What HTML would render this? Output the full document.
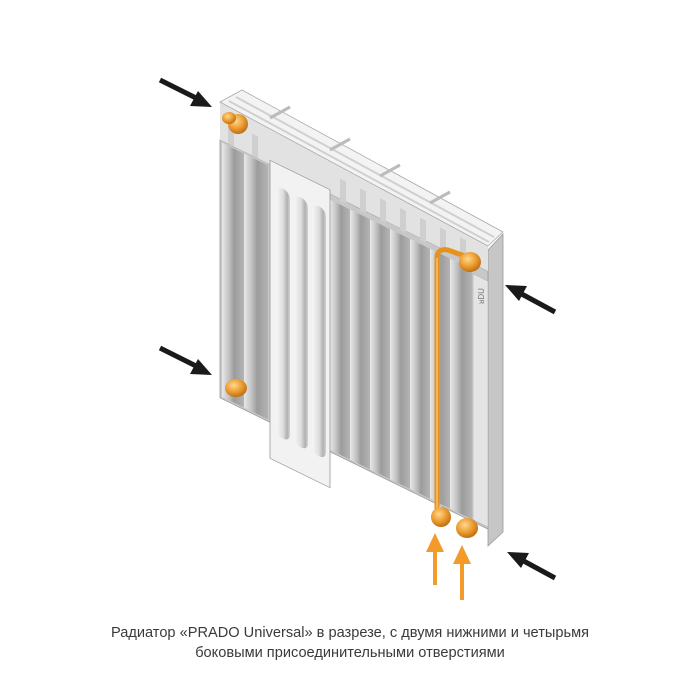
<!DOCTYPE html>
<html><head><meta charset="utf-8"><style>
html,body{margin:0;padding:0;background:#fff;}
.cap{position:absolute;left:0;width:700px;text-align:center;font-family:"Liberation Sans",sans-serif;font-size:14.6px;color:#3a3a3a;}
</style></head><body>
<div style="position:relative;width:700px;height:700px;overflow:hidden">
<svg width="700" height="700" viewBox="0 0 700 700" style="position:absolute;left:0;top:0">
<defs>
<linearGradient id="fin" x1="0" x2="1" y1="0" y2="0">
<stop offset="0" stop-color="#e8e8e8"/><stop offset="0.3" stop-color="#c4c4c4"/><stop offset="0.55" stop-color="#9c9c9c"/><stop offset="1" stop-color="#b4b4b4"/>
</linearGradient>
<linearGradient id="fin2" x1="0" x2="1" y1="0" y2="0">
<stop offset="0" stop-color="#f6f6f6"/><stop offset="0.5" stop-color="#dedede"/><stop offset="0.8" stop-color="#b0b0b0"/><stop offset="1" stop-color="#d4d4d4"/>
</linearGradient>
<radialGradient id="cu" cx="0.4" cy="0.35" r="0.7">
<stop offset="0" stop-color="#ffd890"/><stop offset="0.5" stop-color="#eea035"/><stop offset="1" stop-color="#b86a10"/>
</radialGradient>
</defs>
<!-- right side face -->
<polygon points="488,250 503,234 503,532 488,546" fill="#c6c6c6" stroke="#999" stroke-width="0.8"/>
<g transform="matrix(1,0.49,0,1,0,0)">
<!-- back panel -->
<rect x="220" y="32" width="268" height="258" fill="#c8c8c8" stroke="#999" stroke-width="0.8"/>
<rect x="222" y="34" width="22" height="254" fill="url(#fin)"/>
<rect x="244" y="34" width="24" height="254" fill="url(#fin)"/>
<rect x="330" y="38" width="20" height="250" fill="url(#fin)"/>
<rect x="350" y="38" width="20" height="250" fill="url(#fin)"/>
<rect x="370" y="38" width="20" height="250" fill="url(#fin)"/>
<rect x="390" y="38" width="20" height="250" fill="url(#fin)"/>
<rect x="410" y="38" width="20" height="250" fill="url(#fin)"/>
<rect x="430" y="38" width="20" height="250" fill="url(#fin)"/>
<rect x="450" y="38" width="22" height="250" fill="url(#fin)"/>
<!-- front right panel edge -->
<rect x="473" y="42" width="15" height="246" fill="#e4e4e4" stroke="#aaa" stroke-width="0.5"/>
<!-- convector top front face -->
<rect x="220" y="-6" width="268" height="38" fill="#e2e2e2"/>
<g fill="#cfcfcf">
<rect x="228" y="10" width="6" height="22"/><rect x="252" y="10" width="6" height="22"/>
<rect x="340" y="12" width="6" height="22"/><rect x="360" y="12" width="6" height="22"/>
<rect x="380" y="12" width="6" height="22"/><rect x="400" y="12" width="6" height="22"/>
<rect x="420" y="12" width="6" height="22"/><rect x="440" y="12" width="6" height="22"/>
<rect x="460" y="12" width="6" height="22"/>
</g>
<!-- front cutaway panel -->
<rect x="270" y="28" width="60" height="298" fill="#f2f2f2" stroke="#999" stroke-width="0.8"/>
<rect x="276" y="50" width="14" height="250" rx="7" fill="url(#fin2)"/>
<rect x="294" y="50" width="14" height="250" rx="7" fill="url(#fin2)"/>
<rect x="312" y="50" width="14" height="250" rx="7" fill="url(#fin2)"/>
</g>
<!-- top face -->
<polygon points="220,102 242,90 503,232 488,246" fill="#f3f3f3" stroke="#aaa" stroke-width="0.8"/>
<g stroke="#d0d0d0" stroke-width="2" fill="none">
<line x1="236" y1="97" x2="494" y2="237"/>
<line x1="229" y1="101" x2="489" y2="242"/>
</g>
<g stroke="#bbb" stroke-width="3">
<line x1="270" y1="118" x2="290" y2="107"/>
<line x1="330" y1="150" x2="350" y2="139"/>
<line x1="380" y1="176" x2="400" y2="165"/>
<line x1="430" y1="203" x2="450" y2="192"/>
</g>
<text x="478" y="302" font-family="Liberation Sans,sans-serif" font-size="8" fill="#777" transform="rotate(-90 482 300)">ᴚDU</text>
<!-- orange pipe & fittings -->
<path d="M437,512 L437,258 Q437,248 448,250 L465,256" stroke="#e8921e" stroke-width="5" fill="none"/>
<path d="M437,512 L437,258" stroke="#f7c070" stroke-width="1.5" fill="none"/>
<ellipse cx="238" cy="124" rx="10" ry="10" fill="url(#cu)"/>
<ellipse cx="229" cy="118" rx="7" ry="6" fill="url(#cu)"/>
<ellipse cx="236" cy="388" rx="11" ry="9" fill="url(#cu)"/>
<ellipse cx="470" cy="262" rx="11" ry="10" fill="url(#cu)"/>
<ellipse cx="441" cy="517" rx="10" ry="10" fill="url(#cu)"/>
<ellipse cx="467" cy="528" rx="11" ry="10" fill="url(#cu)"/>
<!-- black arrows -->
<g fill="#1a1a1a" stroke="#1a1a1a">
<line x1="160" y1="80" x2="198" y2="99" stroke-width="5"/>
<polygon points="212,107 190,106 198,91" stroke="none"/>
<line x1="160" y1="348" x2="198" y2="367" stroke-width="5"/>
<polygon points="212,375 190,374 198,359" stroke="none"/>
<line x1="555" y1="312" x2="518" y2="292" stroke-width="5"/>
<polygon points="505,285 527,286 519,301" stroke="none"/>
<line x1="555" y1="578" x2="520" y2="559" stroke-width="5"/>
<polygon points="507,552 529,553 521,568" stroke="none"/>
</g>
<!-- orange arrows -->
<g fill="#f39a2b" stroke="#f39a2b">
<line x1="435" y1="585" x2="435" y2="548" stroke-width="4"/>
<polygon points="426,552 444,552 435,533" stroke="none"/>
<line x1="462" y1="600" x2="462" y2="560" stroke-width="4"/>
<polygon points="453,564 471,564 462,545" stroke="none"/>
</g>
</svg>
<div class="cap" style="top:625px">Радиатор «PRADO Universal» в разрезе, с двумя нижними и четырьмя</div>
<div class="cap" style="top:645px">боковыми присоединительными отверстиями</div>
</div>
</body></html>
